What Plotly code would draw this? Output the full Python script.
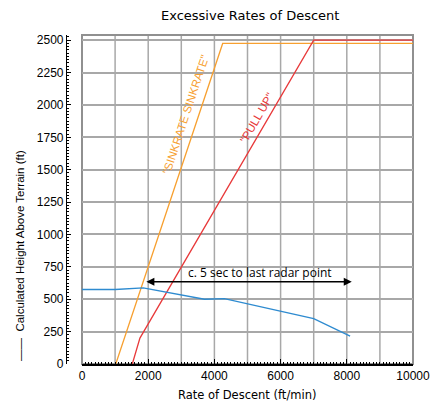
import plotly.graph_objects as go

# Data
sink_x = [1020, 4250, 10000]
sink_y = [0, 2475, 2475]
pull_x = [1520, 1750, 7000, 10000]
pull_y = [0, 200, 2500, 2500]
height_x = [0, 1000, 1850, 3700, 4300, 7000, 8100]
height_y = [575, 575, 588, 500, 505, 350, 215]
arrow_x = [1900, 8150]
arrow_y = 635
grid_x = list(range(0, 10001, 1000))

W, H = 432, 403
L, R, T, B = 0, 19, 35, 39
PW = W - L - R
PH = H - T - B

def px(x):
    return (x - L) / PW

def py(y):
    return (H - B - y) / PH

ORANGE = "#F7A030"
RED = "#E8393A"
BLUE = "#2E8BD0"
GRID = "#A8A8A8"

fig = go.Figure()
fig.add_trace(go.Scatter(x=sink_x, y=sink_y, mode="lines", line=dict(color=ORANGE, width=1.3), showlegend=False))
fig.add_trace(go.Scatter(x=pull_x, y=pull_y, mode="lines", line=dict(color=RED, width=1.3), showlegend=False))
fig.add_trace(go.Scatter(x=height_x, y=height_y, mode="lines", line=dict(color=BLUE, width=1.3), showlegend=False))

for gx in grid_x:
    fig.add_vline(x=gx, line=dict(color=GRID, width=1.5), layer="below")

# frame
fig.add_shape(type="rect", xref="x domain", yref="y domain", x0=0, x1=1, y0=0, y1=1,
              line=dict(color="#909090", width=2), layer="below")

C = dict(xanchor="center", yanchor="middle", showarrow=False)
annotations = [
    dict(text="Excessive Rates of Descent", x=px(250), y=py(16), xref="paper", yref="paper",
         font=dict(family="DejaVu Sans", size=13, color="black"), **C),
    dict(text="Rate of Descent (ft/min)", x=px(247), y=py(395), xref="paper", yref="paper",
         font=dict(family="DejaVu Sans", size=11.5, color="black"), **C),
    dict(text="——&nbsp;&nbsp;Calculated Height Above Terrain (ft)", x=px(20), y=py(256), xref="paper", yref="paper",
         textangle=-90, font=dict(family="Liberation Sans", size=11.5, color="black"), **C),
    dict(text='"SINKRATE SINKRATE"', x=3140, y=1930, xref="x", yref="y",
         textangle=-71.7, font=dict(family="Liberation Sans", size=11.5, color=ORANGE), **C),
    dict(text='"PULL UP"', x=5280, y=1900, xref="x", yref="y",
         textangle=-60, font=dict(family="Liberation Sans", size=11.5, color=RED), **C),
    dict(text="c. 5 sec to last radar point", x=5380, y=705, xref="x", yref="y",
         font=dict(family="Open Sans", size=12, color="black"), **C),
    dict(text="", x=arrow_x[1], y=arrow_y, ax=arrow_x[0], ay=arrow_y, xref="x", yref="y",
         axref="x", ayref="y", showarrow=True, arrowhead=2, startarrowhead=2, arrowside="end+start",
         arrowwidth=1.6, arrowsize=1, startarrowsize=1, arrowcolor="black"),
]

fig.update_layout(
    width=W, height=H,
    margin=dict(l=L, r=R, t=T, b=B, autoexpand=False),
    paper_bgcolor="white", plot_bgcolor="white",
    annotations=annotations,
    xaxis=dict(
        domain=[82 / PW, 1], range=[0, 10000], dtick=2000, tick0=0,
        automargin=False, exponentformat="none", tickformat="d",
        showgrid=False, zeroline=False,
        showline=True, linecolor="black", linewidth=1.5,
        ticks="inside", ticklen=5, tickwidth=1.2, tickcolor="black",
        minor=dict(dtick=100, ticks="inside", ticklen=2.5, tickcolor="black", tickwidth=1,
                   showgrid=False),
        tickfont=dict(family="Liberation Sans", size=12, color="black"),
    ),
    yaxis=dict(
        anchor="free", position=66 / PW, range=[0, 2540], dtick=250, tick0=0,
        automargin=False, tickformat="d",
        showgrid=True, gridcolor=GRID, gridwidth=1.5, zeroline=False,
        showline=True, linecolor="black", linewidth=1.2,
        ticks="inside", ticklen=4, tickwidth=1.2, tickcolor="black",
        minor=dict(dtick=25, ticks="inside", ticklen=2, tickcolor="black", tickwidth=1,
                   showgrid=False),
        tickfont=dict(family="Liberation Sans", size=12, color="black"),
    ),
)

fig.write_html("out.html", config={"displayModeBar": False},
               post_script="document.body.style.margin='0';document.body.style.overflow='hidden';")
